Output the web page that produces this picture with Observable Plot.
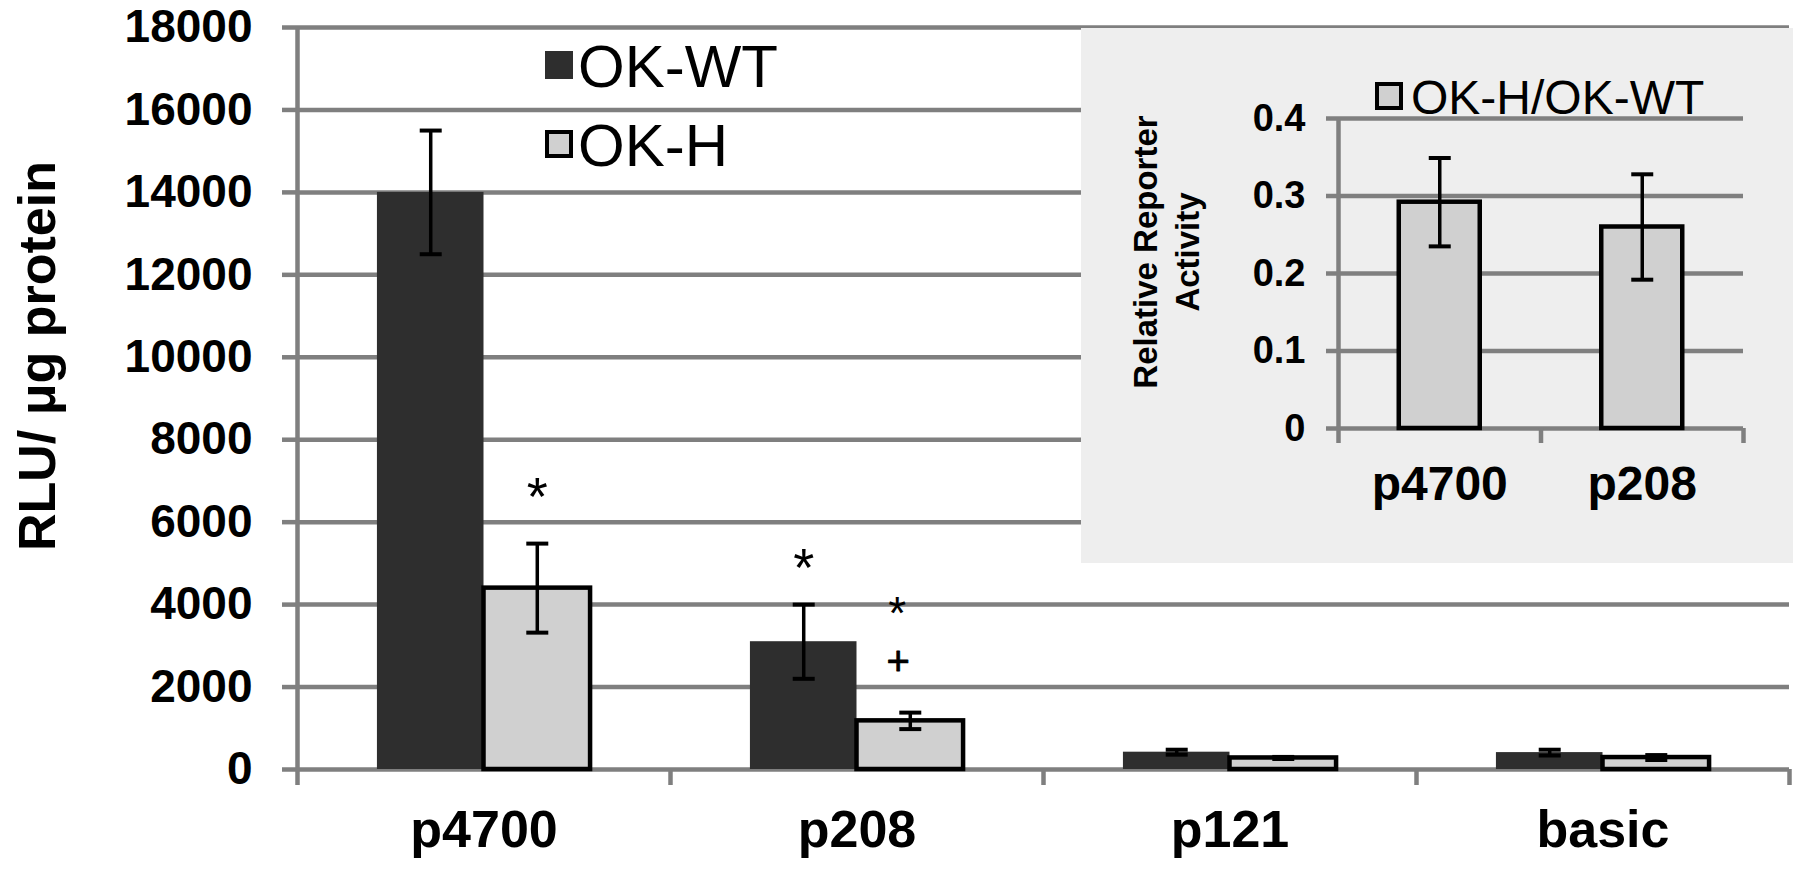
<!DOCTYPE html>
<html><head><meta charset="utf-8">
<script src="https://cdn.jsdelivr.net/npm/d3@7"></script>
<script src="https://cdn.jsdelivr.net/npm/@observablehq/plot@0.6"></script>
<style>
body{margin:0;background:#fff;}
#wrap{position:relative;width:1800px;height:869px;font-family:"Liberation Sans",Arial,sans-serif;color:#000;overflow:hidden;}
#wrap svg{position:absolute;left:0;top:0;}
.abs{position:absolute;white-space:nowrap;}
.rot{transform:translate(-50%,-50%) rotate(-90deg);text-align:center;}
.sw{position:absolute;box-sizing:border-box;}
.lg{position:absolute;transform:translateY(-50%);line-height:1;white-space:nowrap;}
#inset{position:absolute;left:1081px;top:28px;width:712px;height:535px;background:#eeeeee;}
#inset svg{position:absolute;left:0;top:0;}
</style></head><body><div id="wrap"></div>
<script>
// ---- main chart data ----
const categories = ["p4700", "p208", "p121", "basic"];
const seriesNames = ["OK-WT", "OK-H"];
const wtValues = [14000, 3100, 420, 410];
const wtErrors = [1500, 900, 60, 70];
const hValues = [4400, 1180, 280, 290];
const hErrors = [1080, 200, 25, 60];
const yTicks = [0, 2000, 4000, 6000, 8000, 10000, 12000, 14000, 16000, 18000];
const annotations = [
  {category: "p4700", series: "OK-H", y: 6770, label: "*"},
  {category: "p208", series: "OK-WT", y: 5030, label: "*"},
  {category: "p208", series: "OK-H", y: 3900, label: "*"},
  {category: "p208", series: "OK-H", y: 2600, label: "+"}
];
const yTitle = "RLU/ \u03bcg protein";

// ---- inset data ----
const insetCategories = ["p4700", "p208"];
const insetSeries = "OK-H/OK-WT";
const ratioValues = [0.292, 0.26];
const ratioErrors = [0.057, 0.068];
const insetTicks = [0, 0.1, 0.2, 0.3, 0.4];
const insetTitle = ["Relative Reporter", "Activity"];

// ---- styling ----
const FONT = '"Liberation Sans", Arial, sans-serif';
const GRID = "#7f7f7f";
const DARK = "#2e2e2e";
const LIGHT = "#d0d0d0";
const gapWidth = 1.5; // Excel-style gap width (150%)

// cap symbol for error bars
const capSymbol = {draw(ctx, size) { const r = Math.sqrt(size / Math.PI); ctx.moveTo(-r, 0); ctx.lineTo(r, 0); }};

function layoutRows(cats, seriesList) {
  const n = seriesList.length;
  const barFrac = 1 / (n + gapWidth);
  const outer = gapWidth / 2 * barFrac;
  const rows = [];
  cats.forEach((c, i) => {
    seriesList.forEach((s, k) => {
      const x1 = i + outer + k * barFrac;
      rows.push({category: c, series: s.name, value: s.values[i], err: s.errors[i], x1, x2: x1 + barFrac, xc: x1 + barFrac / 2});
    });
  });
  return rows;
}

const rows = layoutRows(categories, [
  {name: seriesNames[0], values: wtValues, errors: wtErrors},
  {name: seriesNames[1], values: hValues, errors: hErrors}
]);
const findRow = (c, s) => rows.find(r => r.category === c && r.series === s);
const annRows = annotations.map(a => ({...a, x: findRow(a.category, a.series).xc}));
const isShifted = d => d.category === "p208" && d.series === "OK-H";

const wrap = document.getElementById("wrap");

const main = Plot.plot({
  width: 1800, height: 869,
  marginLeft: 297, marginRight: 11, marginTop: 27, marginBottom: 100,
  x: {type: "linear", domain: [0, categories.length]},
  y: {domain: [0, 18000]},
  style: {fontFamily: FONT, background: "transparent", color: "#000", overflow: "visible"},
  marks: [
    Plot.ruleY(yTicks, {stroke: GRID, strokeWidth: 4.5}),
    Plot.ruleX([0], {stroke: GRID, strokeWidth: 4.5}),
    Plot.axisY({ticks: yTicks, tickSize: 15, tickPadding: 30, tickFormat: d => String(d), fontSize: 46, fontWeight: "bold", stroke: GRID, strokeWidth: 4.5, label: null}),
    Plot.axisX({ticks: d3.range(categories.length + 1), tickSize: 16, tickFormat: () => "", stroke: GRID, strokeWidth: 4.5, label: null}),
    Plot.axisX({ticks: categories.map((c, i) => i + 0.5), tickSize: 0, tickPadding: 41, tickFormat: d => categories[Math.floor(d)], fontSize: 52, fontWeight: "bold", label: null}),
    Plot.rectY(rows.filter(d => d.series === seriesNames[0]), {x1: "x1", x2: "x2", y1: 0, y2: "value", fill: DARK}),
    Plot.rectY(rows.filter(d => d.series === seriesNames[1]), {x1: "x1", x2: "x2", y1: 0, y2: "value", fill: LIGHT, stroke: "#000", strokeWidth: 4.5}),
    Plot.ruleX(rows, {x: "xc", y1: d => d.value - d.err, y2: d => d.value + d.err, stroke: "#000", strokeWidth: 3.5}),
    Plot.dot(rows, {x: "xc", y: d => d.value + d.err, r: 11, symbol: capSymbol, stroke: "#000", strokeWidth: 4, fill: "none"}),
    Plot.dot(rows, {x: "xc", y: d => d.value - d.err, r: 11, symbol: capSymbol, stroke: "#000", strokeWidth: 4, fill: "none"}),
    Plot.text(annRows.filter(d => d.label === "*" && !isShifted(d)), {x: "x", y: "y", text: "label", fontSize: 54, dy: 7, fill: "#000"}),
    Plot.text(annRows.filter(d => d.label === "*" && isShifted(d)), {x: "x", y: "y", text: "label", fontSize: 46, dy: 6, dx: -13, fill: "#000"}),
    Plot.text(annRows.filter(d => d.label === "+"), {x: "x", y: "y", text: "label", fontSize: 40, dx: -12, fill: "#000", stroke: "#000", strokeWidth: 0.8})
  ]
});
wrap.appendChild(main);

// main y title
const yt = document.createElement("div");
yt.className = "abs rot";
yt.style.cssText += "left:37px;top:356px;font-size:52px;font-weight:bold;";
yt.textContent = yTitle;
wrap.appendChild(yt);

// main legend
const legendSpecs = [
  {name: seriesNames[0], fill: DARK, border: "none", cy: 65},
  {name: seriesNames[1], fill: LIGHT, border: "4px solid #000", cy: 144}
];
legendSpecs.forEach(s => {
  const sw = document.createElement("div");
  sw.className = "sw";
  sw.style.cssText += `left:545px;top:${s.cy - 14}px;width:28px;height:28px;background:${s.fill};border:${s.border};`;
  wrap.appendChild(sw);
  const t = document.createElement("div");
  t.className = "lg";
  t.style.cssText += `left:578px;top:${s.cy + 2}px;font-size:60px;`;
  t.textContent = s.name;
  wrap.appendChild(t);
});

// ---- inset ----
const inset = document.createElement("div");
inset.id = "inset";
wrap.appendChild(inset);

const irows = layoutRows(insetCategories, [{name: insetSeries, values: ratioValues, errors: ratioErrors}]);

const insetPlot = Plot.plot({
  width: 712, height: 535,
  marginLeft: 257, marginRight: 50, marginTop: 90, marginBottom: 135,
  x: {type: "linear", domain: [0, insetCategories.length]},
  y: {domain: [0, 0.4]},
  style: {fontFamily: FONT, background: "transparent", color: "#000", overflow: "visible"},
  marks: [
    Plot.ruleY(insetTicks, {stroke: GRID, strokeWidth: 4.5}),
    Plot.ruleX([0], {stroke: GRID, strokeWidth: 4.5}),
    Plot.axisY({ticks: insetTicks, tickSize: 12, tickPadding: 21, tickFormat: d => String(d), fontSize: 38, fontWeight: "bold", stroke: GRID, strokeWidth: 4.5, label: null}),
    Plot.axisX({ticks: d3.range(insetCategories.length + 1), tickSize: 15, tickFormat: () => "", stroke: GRID, strokeWidth: 4.5, label: null}),
    Plot.axisX({ticks: insetCategories.map((c, i) => i + 0.5), tickSize: 0, tickPadding: 37, tickFormat: d => insetCategories[Math.floor(d)], fontSize: 48, fontWeight: "bold", label: null}),
    Plot.rectY(irows, {x1: "x1", x2: "x2", y1: 0, y2: "value", fill: LIGHT, stroke: "#000", strokeWidth: 4.5}),
    Plot.ruleX(irows, {x: "xc", y1: d => d.value - d.err, y2: d => d.value + d.err, stroke: "#000", strokeWidth: 3.5}),
    Plot.dot(irows, {x: "xc", y: d => d.value + d.err, r: 11, symbol: capSymbol, stroke: "#000", strokeWidth: 4, fill: "none"}),
    Plot.dot(irows, {x: "xc", y: d => d.value - d.err, r: 11, symbol: capSymbol, stroke: "#000", strokeWidth: 4, fill: "none"})
  ]
});
inset.appendChild(insetPlot);

const it = document.createElement("div");
it.className = "abs rot";
it.style.cssText += "left:86px;top:224px;font-size:33px;font-weight:bold;line-height:42px;";
it.innerHTML = insetTitle.join("<br>");
inset.appendChild(it);

const isw = document.createElement("div");
isw.className = "sw";
isw.style.cssText += `left:294px;top:54px;width:28px;height:28px;background:${LIGHT};border:4px solid #000;`;
inset.appendChild(isw);
const ilg = document.createElement("div");
ilg.className = "lg";
ilg.style.cssText += "left:330px;top:70px;font-size:48px;";
ilg.textContent = insetSeries;
inset.appendChild(ilg);
</script>
</body></html>
